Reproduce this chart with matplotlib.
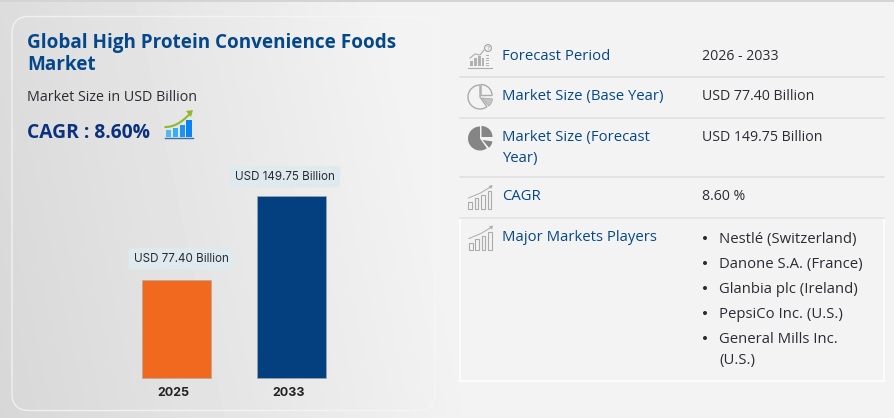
import numpy as np
import matplotlib
matplotlib.use('Agg')
import matplotlib.pyplot as plt
from matplotlib.patches import FancyBboxPatch, Rectangle, Wedge, Circle, Polygon

W, H = 895, 418
plt.rcParams['font.family'] = ['Open Sans', 'DejaVu Sans']

# data
years = ['2025', '2033']
# height of the 2025 bar, it is drawn a bit taller than its label says
bar_values = [80.6, 149.75]
bar_labels = ['USD 77.40 Billion', 'USD 149.75 Billion']
bar_colors = ['#f0691f', '#044080']
row_names = ['Forecast Period', 'Market Size (Base Year)', 'Market Size (Forecast', 'Year)', 'CAGR', 'Major Markets Players']
row_values = ['2026 - 2033', 'USD 77.40 Billion', 'USD 149.75 Billion', '8.60 %']
players = ['Nestlé (Switzerland)', 'Danone S.A. (France)', 'Glanbia plc (Ireland)', 'PepsiCo Inc. (U.S.)', 'General Mills Inc.', '(U.S.)']

# text baselines in pixels
name_base = [59.5, 100, 141, 162, 200, 241]
value_base = [59.5, 100, 141, 200]
player_base = [243.3, 268.3, 293.3, 318.3, 343.3, 364]
bullet_y = [238, 263, 288, 313, 338]
row_lines = [76.5, 117.5, 176.5, 217.5]

NAVY = '#04478a'
DARK = '#2b2b33'
GREY = '#858585'
LINE_GREY = '#ababab'
TIP = '#dfeaee'
SIZE = 10.7

fig = plt.figure(figsize=(W / 100, H / 100), dpi=100)
bg = fig.add_axes([0, 0, 1, 1])
bg.set_xlim(0, W)
bg.set_ylim(H, 0)
bg.axis('off')

# grey gradient on the left, flat on the right
xx, yy = np.meshgrid(np.linspace(0, 1, W), np.linspace(0, 1, H))
grad = np.clip((xx * W + (1 - yy) * 90) / 480, 0, 1)
bg.imshow(215 + grad * 28, cmap='gray', vmin=0, vmax=255, extent=[0, W, H, 0], aspect='auto', zorder=0)
bg.add_patch(Rectangle((0, 0), W, 1.5, color='#d4d4d4', lw=0, zorder=1))
bg.add_patch(FancyBboxPatch((12, 16.5), 423, 394, boxstyle='round,pad=0,rounding_size=17',
                            fc='none', ec='#f6f6f6', lw=1, alpha=0.8, zorder=1))

# left panel text
bg.text(27, 48, 'Global High Protein Convenience Foods', color=NAVY, fontsize=13.6, weight='bold', va='baseline')
bg.text(27, 70, 'Market', color=NAVY, fontsize=13.6, weight='bold', va='baseline')
bg.text(27, 101, 'Market Size in USD Billion', color=DARK, fontsize=10.3, va='baseline')
bg.text(27, 137.7, 'CAGR : 8.60%', color='#0a3080', fontsize=13.9, weight='bold', va='baseline')

# small growth icon next to the CAGR
for x0, h, c in zip([166, 173, 180, 186.5], [7, 9, 12, 17], ['#4db8f5', '#36aef5', '#1a96f0', '#0a84f0']):
    bg.add_patch(Rectangle((x0, 136.5 - h), 5.2, h, color=c, lw=0, zorder=2))
bg.plot([165, 193], [137.5, 137.5], color='#3a6ea5', lw=1, zorder=2)
t = np.linspace(0, 1, 20)
bg.plot(165.5 + 25 * t, 127 - 14 * t ** 2, color='#8fb82a', lw=1.5, zorder=3)
bg.add_patch(Polygon([[193, 110], [186, 111], [191, 117]], color='#8fb82a', lw=0, zorder=3))

# bars
y_base, y_top = 378, 196
step = 115
left_px = 176.5
scale = (y_base - y_top) / bar_values[1]
ax = fig.add_axes([0, 0, 1, 1])
ax.patch.set_visible(False)
ax.set_xlim(-left_px / step, (W - left_px) / step)
ax.set_ylim(-(H - y_base) / scale, y_base / scale)
ax.bar(range(len(years)), bar_values, width=69 / step, color=bar_colors, edgecolor='#a9a9a9', linewidth=0.4)
for s in ax.spines.values():
    s.set_visible(False)
ax.set_yticks([])
ax.set_xticks(np.arange(len(years)) - 3 / step)
ax.set_xticklabels(years, fontsize=9, weight='bold', color='#222222', family=['Inter', 'DejaVu Sans'])
ax.tick_params(axis='x', length=0, direction='in', pad=-22)

# tooltip boxes above the bars
for i, (v, lab) in enumerate(zip(bar_values, bar_labels)):
    mid = left_px + i * step
    py = y_base - v * scale
    cx = 181 if i == 0 else 284.5
    half = 52.5 if i == 0 else 55.5
    lift = 2 if i == 0 else 0
    bg.add_patch(FancyBboxPatch((cx - half + 3, py - 30 - lift + 3), 2 * half - 6, 15.5, boxstyle='round,pad=3',
                                fc=TIP, ec='none', zorder=2))
    bg.add_patch(Polygon([[mid - 3, py - 9], [mid + 3, py - 9], [mid, py - 6]], color=TIP, lw=0, zorder=2))
    bg.text(cx, py - 19.5 - lift, lab, fontsize=8.4, color=DARK, ha='center', va='center', zorder=3,
            family=['Inter', 'DejaVu Sans'])

# right table
bg.add_patch(Rectangle((460.5, 217.5), 424, 163, fc='none', ec='white', lw=1.1, zorder=1))
for y in row_lines:
    bg.plot([460, 884], [y, y], color='#dfdfe3', lw=1.1, zorder=2)
for name, y in zip(row_names, name_base):
    bg.text(502, y, name, color=NAVY, fontsize=SIZE, va='baseline', zorder=3)
for val, y in zip(row_values, value_base):
    bg.text(702, y, val, color=DARK, fontsize=10.2, va='baseline', zorder=3)
for name, y in zip(players, player_base):
    bg.text(719, y, name, color=DARK, fontsize=SIZE, va='baseline', zorder=3)
for y in bullet_y:
    bg.add_patch(Circle((705, y), 2, color=DARK, lw=0, zorder=3))


def bars_icon(x0, y0, hs):
    # little outline bars with a rising line above them
    for k, h in enumerate(hs):
        bg.add_patch(Rectangle((x0 + k * 6.4, y0 - h), 3.6, h, fc='none', ec=LINE_GREY, lw=0.8, zorder=3))
    bg.plot([x0, x0 + 12, x0 + 22], [y0 - 11, y0 - 16, y0 - 22], color=LINE_GREY, lw=0.7, zorder=3)
    bg.add_patch(Polygon([[x0 + 24, y0 - 24], [x0 + 20, y0 - 23], [x0 + 23, y0 - 20]], color=LINE_GREY, lw=0, zorder=3))


# forecast period icon
for k, h in enumerate([5, 8, 10, 8]):
    bg.add_patch(Rectangle((470.5 + k * 3.8, 66 - h), 2.6, h, fc=GREY, alpha=0.6, lw=0, zorder=3))
for j in range(5):
    bg.add_patch(Rectangle((486, 65 - j * 2.5), 3, 1.4, fc=GREY, alpha=0.6, lw=0, zorder=3))
bg.plot([468, 492], [67.5, 67.5], color=LINE_GREY, lw=0.8, zorder=3)
bg.plot([470, 475, 480, 484], [58, 54, 55, 50], color=LINE_GREY, lw=0.8, zorder=3)
bg.add_patch(Circle((488, 48), 3.4, fc='none', ec='#a0a0a0', lw=0.8, zorder=3))
bg.text(488, 48, '?', fontsize=4.5, color='#808080', ha='center', va='center', zorder=4)

# y axis of bg runs downwards, so wedge angles go clockwise here
# outline pie
bg.add_patch(Wedge((480, 97), 12, 55, 270, fc='none', ec=LINE_GREY, lw=1, zorder=3))
bg.add_patch(Wedge((481, 95.5), 11, 270, 360, fc='none', ec=LINE_GREY, lw=1, zorder=3))
bg.add_patch(Wedge((482, 98), 10.5, 5, 50, fc='#c4c4c4', ec=LINE_GREY, lw=0.6, zorder=3))
# solid pie
bg.add_patch(Wedge((480, 138.5), 12, 55, 270, fc=GREY, lw=0, zorder=3))
bg.add_patch(Wedge((481.5, 137), 11, 270, 360, fc=GREY, lw=0, zorder=3))
bg.add_patch(Wedge((482.5, 140), 10, 8, 50, fc=GREY, lw=0, zorder=3))

bars_icon(468.5, 209, [7, 11, 14, 18])
bars_icon(469, 249.5, [7, 11, 14, 18])

fig.savefig('out.png', dpi=100)
